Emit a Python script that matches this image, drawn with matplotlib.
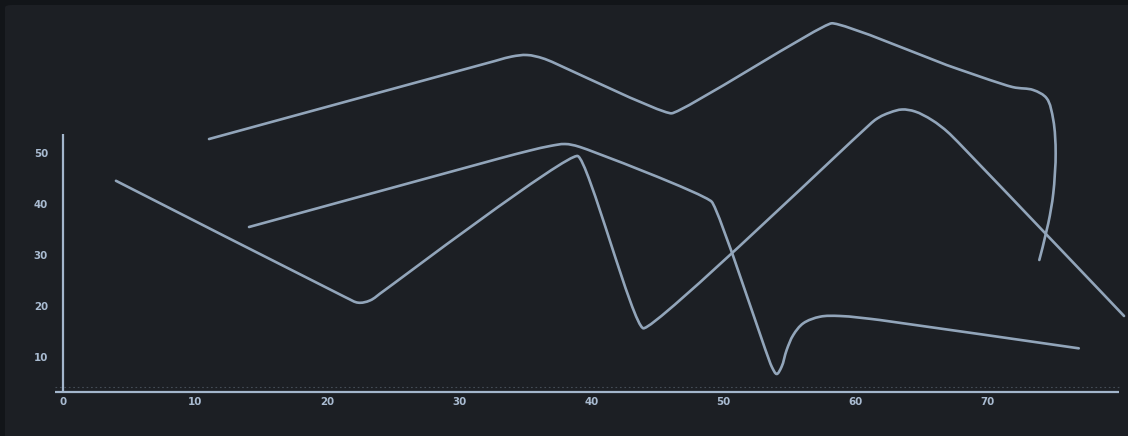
import numpy as np
import matplotlib
matplotlib.use("Agg")
import matplotlib.pyplot as plt
from matplotlib.path import Path
from matplotlib.patches import PathPatch, FancyBboxPatch

# ---- data ----
series_a_x = [11.04, 32.70, 33.99, 35.13, 36.49, 46.08, 58.21, 66.92,
              71.90, 73.48, 74.50, 75.00, 75.18, 75.00, 74.62, 73.94]
series_a_y = [52.80, 68.10, 68.98, 69.27, 68.49, 57.84, 75.49, 67.31,
              63.00, 62.41, 60.78, 56.53, 50.00, 42.16, 36.27, 29.08]

series_b_x = [14.07, 33.08, 35.36, 36.87, 38.01, 39.14, 49.12, 53.67, 54.05,
              54.42, 54.80, 55.30, 56.06, 57.33, 58.84, 61.87, 76.93]
series_b_y = [35.55, 49.02, 50.55, 51.43, 51.82, 51.24, 40.51, 8.16, 6.73,
              8.16, 11.43, 14.37, 16.67, 17.96, 18.10, 17.31, 11.76]

series_c_x = [3.99, 21.34, 22.35, 23.23, 24.37, 38.97, 43.94, 61.49,
              62.63, 63.54, 64.52, 65.80, 67.17, 80.36]
series_c_y = [44.61, 21.82, 20.71, 21.14, 23.20, 49.47, 15.69, 56.53,
              58.00, 58.59, 58.20, 56.53, 53.78, 18.10]

x_ticks = [0, 10, 20, 30, 40, 50, 60, 70]
y_ticks = [10, 20, 30, 40, 50]

LINE = "#92a5ba"
AXIS = "#a3b6cc"
LABEL = "#a9bbd1"
PANEL = "#1c1f24"
OUTER = "#121519"

fig = plt.figure(figsize=(11.28, 4.36), dpi=100, facecolor=OUTER)

ax = fig.add_axes([0, 0, 1, 1])
ax.set_facecolor("none")
ax.set_xlim(-4.795, 80.66)
ax.set_ylim(-5.43, 80.06)

bg = FancyBboxPatch((5 / 1128, -0.05), 1.2, (436 - 5) / 436 + 0.05,
                    boxstyle="round,pad=0,rounding_size=0.006",
                    transform=fig.transFigure, facecolor=PANEL,
                    edgecolor="none", zorder=-10, clip_on=False)
ax.add_patch(bg)

x_axis_y = 3.25
for s in ["top", "right"]:
    ax.spines[s].set_visible(False)
ax.spines["bottom"].set_position(("data", x_axis_y))
ax.spines["bottom"].set_bounds(-0.65, 79.98)
ax.spines["left"].set_position(("data", 0))
ax.spines["left"].set_bounds(x_axis_y, 53.8)
for s in ["bottom", "left"]:
    ax.spines[s].set_color(AXIS)
    ax.spines[s].set_linewidth(1.6)
    ax.spines[s].set_capstyle("butt")

ax.hlines(4.15, -0.65, 79.98, colors=AXIS, linewidth=0.8,
          linestyles=(0, (1.5, 2.5)), alpha=0.3, zorder=1)

ax.set_xticks(x_ticks)
ax.set_xticklabels([str(v) for v in x_ticks])
ax.set_yticks(y_ticks)
ax.set_yticklabels([str(v) for v in y_ticks])
ax.tick_params(axis="both", length=0, colors=LABEL, labelsize=7.4)
ax.tick_params(axis="x", pad=4.0)
ax.tick_params(axis="y", pad=11.0)
for lab in ax.get_xticklabels() + ax.get_yticklabels():
    lab.set_fontweight("bold")
    lab.set_fontfamily("DejaVu Sans")

MAX_HANDLE = 11.0  # px, longest Bezier handle allowed at a vertex


def cap(handle):
    length = np.hypot(*handle)
    if length > MAX_HANDLE:
        handle = handle * (MAX_HANDLE / length)
    return handle


def smooth_path(xs, ys):
    pts = ax.transData.transform(np.column_stack([xs, ys]))
    n = len(pts)
    verts = [pts[0]]
    codes = [Path.MOVETO]
    for i in range(n - 1):
        p1, p2 = pts[i], pts[i + 1]
        l12 = np.hypot(*(p2 - p1))
        c1 = p1.copy()
        if i > 0:
            p0 = pts[i - 1]
            l01 = np.hypot(*(p1 - p0))
            a = 2 * l01 + 3 * np.sqrt(l01) * np.sqrt(l12) + l12
            nn = 3 * np.sqrt(l01) * (np.sqrt(l01) + np.sqrt(l12))
            c1 = p1 + cap((p1 * a - p0 * l12 + p2 * l01) / nn - p1)
        c2 = p2.copy()
        if i + 2 < n:
            p3 = pts[i + 2]
            l23 = np.hypot(*(p3 - p2))
            b = 2 * l23 + 3 * np.sqrt(l23) * np.sqrt(l12) + l12
            m = 3 * np.sqrt(l23) * (np.sqrt(l23) + np.sqrt(l12))
            c2 = p2 + cap((p2 * b + p1 * l23 - p3 * l12) / m - p2)
        verts += [c1, c2, p2]
        codes += [Path.CURVE4] * 3
    verts = ax.transData.inverted().transform(np.array(verts))
    return Path(verts, codes)


for xs, ys in [(series_a_x, series_a_y), (series_b_x, series_b_y),
               (series_c_x, series_c_y)]:
    ax.add_patch(PathPatch(smooth_path(xs, ys), facecolor="none",
                           edgecolor=LINE, linewidth=1.9, capstyle="round",
                           joinstyle="round", clip_on=False, zorder=3))

fig.savefig("out.png", dpi=100, facecolor=OUTER)
